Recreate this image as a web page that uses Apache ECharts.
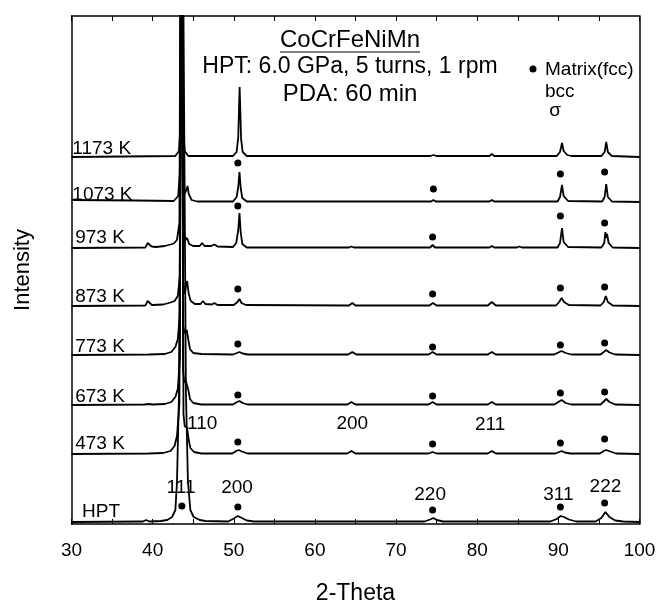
<!DOCTYPE html>
<html>
<head>
<meta charset="utf-8">
<script src="https://cdn.jsdelivr.net/npm/echarts@6/dist/echarts.min.js"></script>
<style>
  html, body { margin: 0; padding: 0; background: #fff; }
  #chart { width: 659px; height: 601px; }
</style>
</head>
<body>
<div id="chart"></div>
<script>
// 2-theta / intensity points (intensity above its own baseline)
var p1173 = [[30,0],[42.8,1],[43.25,6],[43.45,35],[43.6,700],[43.75,35],[43.95,6],[44.4,1],[49.9,1],[50.35,5],[50.55,20],[50.65,50],[50.72,70],[50.8,48],[50.9,18],[51.1,5],[51.6,1],[74.2,1],[74.6,2],[75.0,1],[81.5,1],[81.8,3],[82.1,1],[89.8,1],[90.2,5],[90.45,14],[90.65,6],[91.1,2],[91.6,1],[95.3,1],[95.7,5],[95.9,15],[96.1,5],[96.6,1],[100,0]];
var p1073 = [[30,2],[38,1.5],[42.6,1],[43.15,6],[43.4,35],[43.6,700],[43.75,30],[43.95,8],[44.15,12],[44.3,16],[44.45,8],[44.8,2],[45.5,0.5],[49.9,0.5],[50.35,5],[50.55,15],[50.7,30],[50.85,14],[51.05,4],[51.6,0.5],[74.3,0.5],[74.6,2],[74.9,0.5],[81.5,0.5],[81.8,2],[82.1,0.5],[89.9,0.5],[90.2,5],[90.45,17],[90.65,6],[91.2,1],[95.4,0.5],[95.7,5],[95.9,18],[96.1,5],[96.6,0.5],[100,0]];
var p973 = [[30,0],[39.1,0.5],[39.4,5],[39.5,7],[39.65,3],[39.9,1.5],[40.4,1],[41.5,2],[42.2,3.5],[42.6,4.5],[43.0,8],[43.3,25],[43.6,700],[43.8,22],[44.0,8],[44.25,10],[44.5,4],[45.0,2],[45.8,2],[46.1,5],[46.4,2],[47.2,2],[47.6,3.5],[48.0,1.5],[49.9,1],[50.3,5],[50.55,18],[50.7,35],[50.85,16],[51.05,4],[51.6,0.5],[64.2,0.5],[64.5,1.5],[64.8,0.5],[74.2,0.5],[74.5,3],[74.8,0.5],[81.5,0.5],[81.8,2],[82.1,0.5],[84.9,0.5],[85.2,1.5],[85.5,0.5],[89.9,0.5],[90.2,5],[90.45,20],[90.65,6],[91.2,1],[95.3,0.5],[95.65,5],[95.8,16],[95.9,10],[96.0,14],[96.2,5],[96.7,0.5],[100,0]];
var p873 = [[30,0],[39.1,0.5],[39.4,5],[39.5,7],[39.65,3],[39.9,1],[41.3,1.5],[42.2,3.5],[42.7,5],[43.1,10],[43.35,30],[43.6,700],[43.75,25],[43.95,12],[44.15,22],[44.25,25],[44.45,12],[44.7,5],[45.2,2],[45.9,2],[46.2,5],[46.5,2],[47.3,1.5],[47.6,3],[48.0,1],[50.0,1],[50.45,4],[50.7,7],[50.95,3],[51.5,1],[64.2,0.5],[64.6,3],[65.0,0.5],[74.1,0.5],[74.55,3],[75.0,0.5],[81.3,0.5],[81.8,4],[82.3,0.5],[89.7,0.5],[90.1,4],[90.4,8],[90.7,4],[91.3,1],[95.2,0.5],[95.6,4],[95.85,10],[96.1,4],[96.7,0.5],[100,0]];
var p773 = [[30,0],[39.5,0.5],[41.5,1],[42.3,3],[42.8,8],[43.1,16],[43.35,40],[43.6,700],[43.75,30],[43.9,22],[44.05,24],[44.2,25],[44.4,15],[44.6,6],[45.0,2],[46.0,1],[49.9,0.5],[50.4,2],[50.7,3],[51.1,1.5],[51.7,0.5],[64.1,0.5],[64.6,3],[65.1,0.5],[74.0,0.5],[74.5,3],[75.0,0.5],[81.3,0.5],[81.8,3],[82.3,0.5],[89.5,0.5],[90.0,2.5],[90.4,4],[90.9,2],[91.6,0.5],[95.2,0.5],[95.6,3],[95.9,5],[96.3,2.5],[97.0,0.5],[100,0]];
var p673 = [[30,0],[39.0,0.5],[39.5,1],[40,0.5],[41.5,1],[42.3,3],[42.8,8],[43.1,16],[43.35,45],[43.6,700],[43.75,35],[43.9,22],[44.05,25],[44.2,27],[44.4,15],[44.6,6],[45.0,2],[46.0,0.5],[49.9,0.5],[50.4,3],[50.7,4],[51.1,2],[51.7,0.5],[64.0,0.5],[64.5,3],[65.0,0.5],[74.0,0.5],[74.5,3],[75.0,0.5],[81.3,0.5],[81.8,3],[82.3,0.5],[89.5,0.5],[90.0,3],[90.4,5],[90.9,2],[91.6,0.5],[95.2,0.5],[95.6,3.5],[95.9,6],[96.3,3],[97,0.5],[100,0]];
var p473 = [[30,0],[39.5,0.5],[41.3,1],[42.2,3],[42.7,8],[43.0,18],[43.3,50],[43.6,700],[43.8,40],[43.95,28],[44.1,29],[44.25,26],[44.45,14],[44.65,6],[45.1,2],[46,0.5],[49.8,0.5],[50.3,3],[50.6,4],[51.0,2.5],[51.7,0.5],[64.0,0.5],[64.5,3],[65.0,0.5],[74.0,0.5],[74.5,2],[75.0,0.5],[81.3,0.5],[81.8,3],[82.3,0.5],[89.6,0.5],[90.1,2],[90.4,3],[90.8,1.5],[91.5,0.5],[95.1,0.5],[95.6,3],[95.9,4],[96.4,2.5],[97.1,0.5],[100,0]];
var pHPT = [[30,0],[38.8,0.5],[39.2,2],[39.6,0.5],[41.0,1],[41.8,2],[42.4,5],[42.8,12],[43.0,40],[43.25,130],[43.65,700],[44.1,130],[44.35,40],[44.65,12],[45.05,5],[45.8,2],[46.5,1],[49.3,0.5],[49.9,3],[50.5,6],[51.0,4],[51.6,1.5],[52.5,0.5],[73.5,0.5],[74.2,2.5],[74.6,4],[75.0,2],[75.8,0.5],[89.0,0.5],[89.8,3],[90.3,6],[90.7,5],[91.3,2.5],[92.2,0.5],[94.6,0.5],[95.3,4],[95.8,10],[96.3,5],[97.0,1.5],[98,0.5],[100,0]];

var patterns = [p1173, p1073, p973, p873, p773, p673, p473, pHPT];
var rowNames = ['1173 K', '1073 K', '973 K', '873 K', '773 K', '673 K', '473 K', 'HPT'];
var offsets = [367, 322, 276, 218, 169, 119, 70, 2];
var rowLabelX = [30.1, 30.1, 30.45, 30.45, 30.45, 30.45, 30.45, 31.3];
var rowLabelY = [366, 320, 277, 218, 168, 118, 71, 3];

// fcc matrix markers
var fccDots = [
  [50.5,361],[74.6,335],[90.25,350],[95.7,352],
  [50.5,318],[74.5,287],[90.25,308],[95.7,301],
  [50.5,235],[74.5,230],[90.25,236],[95.7,237],
  [50.5,180],[74.5,177],[90.25,179],[95.7,181],
  [50.5,129],[74.5,128],[90.25,131],[95.7,132],
  [50.5,82],[74.5,80],[90.25,81],[95.7,85],
  [43.6,18],[50.5,17],[74.5,14],[90.25,17],[95.7,21]
];

// reflection indices
var hklNames = ['111', '200', '220', '311', '222', '110', '200', '211'];
var hklPos = [[43.5,36],[50.4,36],[74.2,29],[90.0,29],[95.8,37],[46.1,100],[64.6,100],[81.6,99]];

var xTicks = [30, 40, 50, 60, 70, 80, 90, 100];

var FONT = 'Arial, "Liberation Sans", sans-serif';
var chart = echarts.init(document.getElementById('chart'));

var series = patterns.map(function (p, i) {
  return {
    type: 'line',
    data: p.map(function (d) { return [d[0], d[1] + offsets[i]]; }),
    symbol: 'none',
    clip: true,
    lineStyle: { color: '#000', width: 1.8 },
    z: 2
  };
});

series.push({
  type: 'scatter',
  data: fccDots,
  symbol: 'circle',
  symbolSize: 7,
  itemStyle: { color: '#000', opacity: 1 },
  z: 3
});

series.push({
  type: 'scatter',
  symbolSize: 0,
  clip: false,
  itemStyle: { opacity: 1 },
  data: hklNames.map(function (n, i) { return { name: n, value: hklPos[i] }; }),
  label: {
    show: true, position: [0, 0], align: 'center', verticalAlign: 'middle',
    formatter: '{b}', color: '#000', fontSize: 19, fontFamily: FONT
  },
  z: 4
});

series.push({
  type: 'scatter',
  symbolSize: 0,
  clip: false,
  itemStyle: { opacity: 1 },
  data: rowNames.map(function (n, i) { return { name: n, value: [rowLabelX[i], rowLabelY[i]] }; }),
  label: {
    show: true, position: [0, 0], align: 'left', verticalAlign: 'bottom',
    formatter: '{b}', color: '#000', fontSize: 19, fontFamily: FONT
  },
  z: 4
});

var xAxisBase = {
  type: 'value', min: 30, max: 100, interval: 10,
  axisLine: { show: true, onZero: false, lineStyle: { color: '#000', width: 1.5 } },
  axisTick: { show: true, inside: true, length: 5, lineStyle: { color: '#000' } },
  minorTick: { show: true, splitNumber: 2, length: 5, lineStyle: { color: '#000' } },
  splitLine: { show: false }
};

chart.setOption({
  animation: false,
  backgroundColor: '#fff',
  grid: { left: 71.5, right: 19.5, top: 16, bottom: 77, outerBoundsMode: 'none' },
  xAxis: [
    Object.assign({}, xAxisBase, {
      position: 'bottom',
      name: '2-Theta', nameLocation: 'middle', nameGap: 58,
      nameTextStyle: { color: '#000', fontSize: 23, fontFamily: FONT },
      axisLabel: {
        show: true, margin: 17, color: '#000', fontSize: 19, fontFamily: FONT,
        customValues: xTicks
      }
    }),
    Object.assign({}, xAxisBase, { position: 'top', axisLabel: { show: false } })
  ],
  yAxis: [
    {
      type: 'value', min: 0, max: 508, position: 'left',
      name: 'Intensity', nameLocation: 'middle', nameGap: 38, nameRotate: 90,
      nameTextStyle: { color: '#000', fontSize: 22, fontFamily: FONT },
      axisLine: { show: true, lineStyle: { color: '#000', width: 1.5 } },
      axisTick: { show: false }, axisLabel: { show: false }, splitLine: { show: false }
    },
    {
      type: 'value', min: 0, max: 508, position: 'right',
      axisLine: { show: true, lineStyle: { color: '#000', width: 1.5 } },
      axisTick: { show: false }, axisLabel: { show: false }, splitLine: { show: false }
    }
  ],
  graphic: [
    { type: 'text', style: { text: 'CoCrFeNiMn', x: 350, y: 40, align: 'center', verticalAlign: 'middle', font: '24px ' + FONT, fill: '#000' } },
    { type: 'line', shape: { x1: 280, y1: 52, x2: 420, y2: 52 }, style: { stroke: '#000', lineWidth: 1 } },
    { type: 'text', style: { text: 'HPT: 6.0 GPa, 5 turns, 1 rpm', x: 350, y: 67, align: 'center', verticalAlign: 'middle', font: '23px ' + FONT, fill: '#000' } },
    { type: 'text', style: { text: 'PDA: 60 min', x: 350, y: 94, align: 'center', verticalAlign: 'middle', font: '24px ' + FONT, fill: '#000' } },
    { type: 'circle', shape: { cx: 533, cy: 69, r: 3.5 }, style: { fill: '#000' } },
    { type: 'text', style: { text: 'Matrix(fcc)', x: 545, y: 70, align: 'left', verticalAlign: 'middle', font: '19px ' + FONT, fill: '#000' } },
    { type: 'text', style: { text: 'bcc', x: 545, y: 92, align: 'left', verticalAlign: 'middle', font: '19px ' + FONT, fill: '#000' } },
    { type: 'text', style: { text: 'σ', x: 555, y: 111, align: 'center', verticalAlign: 'middle', font: '19px ' + FONT, fill: '#000' } }
  ],
  series: series
});
</script>
</body>
</html>
